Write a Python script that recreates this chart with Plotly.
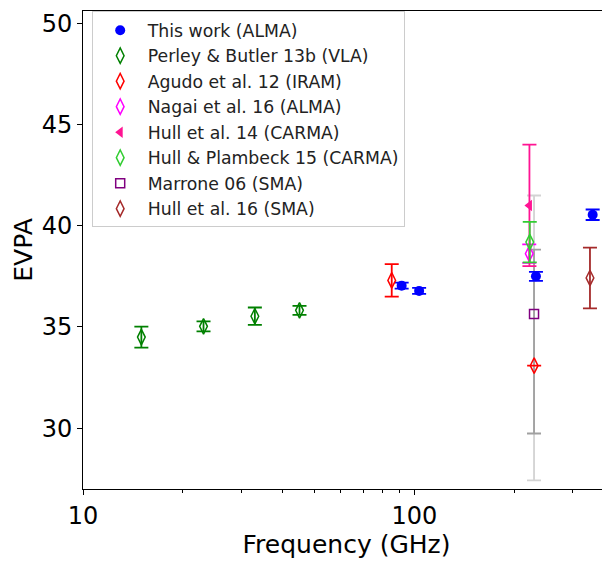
import plotly.graph_objects as go

# ---- data ----
this_work_freq = [91.5, 103.3, 232.6, 344.9]
this_work_evpa = [37.04, 36.78, 37.50, 40.54]
this_work_err = [0.15, 0.15, 0.22, 0.26]

perley_freq = [15.0, 23.1, 33.0, 45.0]
perley_evpa = [34.50, 35.03, 35.53, 35.82]
perley_err = [0.52, 0.25, 0.43, 0.22]

agudo_freq = [85.4, 229.7]
agudo_evpa = [37.30, 33.09]
agudo_err = [0.8, None]

nagai_freq = [222.0]
nagai_evpa = [38.62]
nagai_err = [0.46]

hull14_freq = [222.3]
hull14_evpa = [41.0]
hull14_err = [3.0]

hullp15_freq = [222.8]
hullp15_evpa = [39.19]
hullp15_err = [1.0]

marrone_freq = [229.5]
marrone_evpa = [35.64]

# grey error bars plotted at the SMA/IRAM 230 GHz position
grey_outer_freq = [229.5]
grey_outer_center = [34.46]
grey_outer_err = [7.03]
grey_inner_freq = [229.5]
grey_inner_center = [34.28]
grey_inner_err = [4.54]

hull16_freq = [338.5]
hull16_evpa = [37.42]
hull16_err = [1.5]

x_major = [10, 100]
x_major_text = ["10", "100"]
x_minor = [20, 30, 40, 50, 60, 70, 80, 90, 200, 300]
y_ticks = [30, 35, 40, 45, 50]

FONT = "DejaVu Sans"
EW = 7
ET = 1.8

fig = go.Figure()

# grey bars (behind)
fig.add_trace(go.Scatter(
    x=grey_outer_freq, y=grey_outer_center, mode="markers", showlegend=False,
    marker=dict(size=1, opacity=0), hoverinfo="skip",
    error_y=dict(type="data", array=grey_outer_err, color="#d3d3d3", thickness=ET, width=EW)))
fig.add_trace(go.Scatter(
    x=grey_inner_freq, y=grey_inner_center, mode="markers", showlegend=False,
    marker=dict(size=1, opacity=0), hoverinfo="skip",
    error_y=dict(type="data", array=grey_inner_err, color="#a0a0a0", thickness=ET, width=EW)))

fig.add_trace(go.Scatter(
    x=this_work_freq, y=this_work_evpa, mode="markers", name="This work (ALMA)",
    marker=dict(symbol="circle", size=10, color="#0000ff"), cliponaxis=False,
    error_y=dict(type="data", array=this_work_err, color="#0000ff", thickness=ET, width=EW)))
fig.add_trace(go.Scatter(
    x=perley_freq, y=perley_evpa, mode="markers", name="Perley & Butler 13b (VLA)",
    marker=dict(symbol="diamond-tall-open", size=11, color="#008000", line=dict(width=1.5)),
    error_y=dict(type="data", array=perley_err, color="#008000", thickness=ET, width=EW)))
fig.add_trace(go.Scatter(
    x=agudo_freq, y=agudo_evpa, mode="markers", name="Agudo et al. 12 (IRAM)",
    marker=dict(symbol="diamond-tall-open", size=11, color="#ff0000", line=dict(width=1.5)),
    error_y=dict(type="data", array=agudo_err, color="#ff0000", thickness=ET, width=EW)))
fig.add_trace(go.Scatter(
    x=nagai_freq, y=nagai_evpa, mode="markers", name="Nagai et al. 16 (ALMA)",
    marker=dict(symbol="diamond-tall-open", size=11, color="#ff00ff", line=dict(width=1.5)),
    error_y=dict(type="data", array=nagai_err, color="#ff00ff", thickness=ET, width=EW)))
fig.add_trace(go.Scatter(
    x=hull14_freq, y=hull14_evpa, mode="markers", name="Hull et al. 14 (CARMA)",
    marker=dict(symbol="triangle-left", size=10, color="#ff1493"),
    error_y=dict(type="data", array=hull14_err, color="#ff1493", thickness=ET, width=EW)))
fig.add_trace(go.Scatter(
    x=hullp15_freq, y=hullp15_evpa, mode="markers", name="Hull & Plambeck 15 (CARMA)",
    marker=dict(symbol="diamond-tall-open", size=11, color="#32cd32", line=dict(width=1.5)),
    error_y=dict(type="data", array=hullp15_err, color="#32cd32", thickness=ET, width=EW)))
fig.add_trace(go.Scatter(
    x=marrone_freq, y=marrone_evpa, mode="markers", name="Marrone 06 (SMA)",
    marker=dict(symbol="square-open", size=9, color="#800080", line=dict(width=1.5))))
fig.add_trace(go.Scatter(
    x=hull16_freq, y=hull16_evpa, mode="markers", name="Hull et al. 16 (SMA)",
    marker=dict(symbol="diamond-tall-open", size=11, color="#a52a2a", line=dict(width=1.5)),
    error_y=dict(type="data", array=hull16_err, color="#a52a2a", thickness=ET, width=EW)))

fig.update_layout(
    width=602, height=555,
    margin=dict(l=75, r=0, t=3, b=74, autoexpand=False),
    paper_bgcolor="white", plot_bgcolor="white",
    font=dict(family=FONT, color="black"),
    showlegend=True,
    legend=dict(
        x=0.0165, y=0.999, xanchor="left", yanchor="top",
        bgcolor="white", bordercolor="#cccccc", borderwidth=1,
        font=dict(family=FONT, size=17.3, color="#222222"),
        tracegroupgap=0, itemsizing="trace", itemwidth=45,
    ),
)
fig.update_xaxes(
    type="log", range=[1.0, 2.59],
    tickvals=x_major, ticktext=x_major_text,
    ticks="outside", ticklen=5, tickwidth=1, tickcolor="black",
    tickfont=dict(family=FONT, size=24),
    minor=dict(tickvals=x_minor, ticks="outside", ticklen=3, tickwidth=1, tickcolor="black", showgrid=False),
    showgrid=False, zeroline=False,
    showline=True, linecolor="black", linewidth=1, mirror=True,
    title=dict(text="Frequency (GHz)", font=dict(family=FONT, size=25), standoff=6),
)
fig.update_yaxes(
    range=[27.0, 50.6],
    tickvals=y_ticks,
    ticks="outside", ticklen=5, tickwidth=1, tickcolor="black",
    tickfont=dict(family=FONT, size=24),
    showgrid=False, zeroline=False,
    showline=True, linecolor="black", linewidth=1, mirror=False,
    title=dict(text="EVPA", font=dict(family=FONT, size=25), standoff=1),
)

fig.write_html("out.html")
